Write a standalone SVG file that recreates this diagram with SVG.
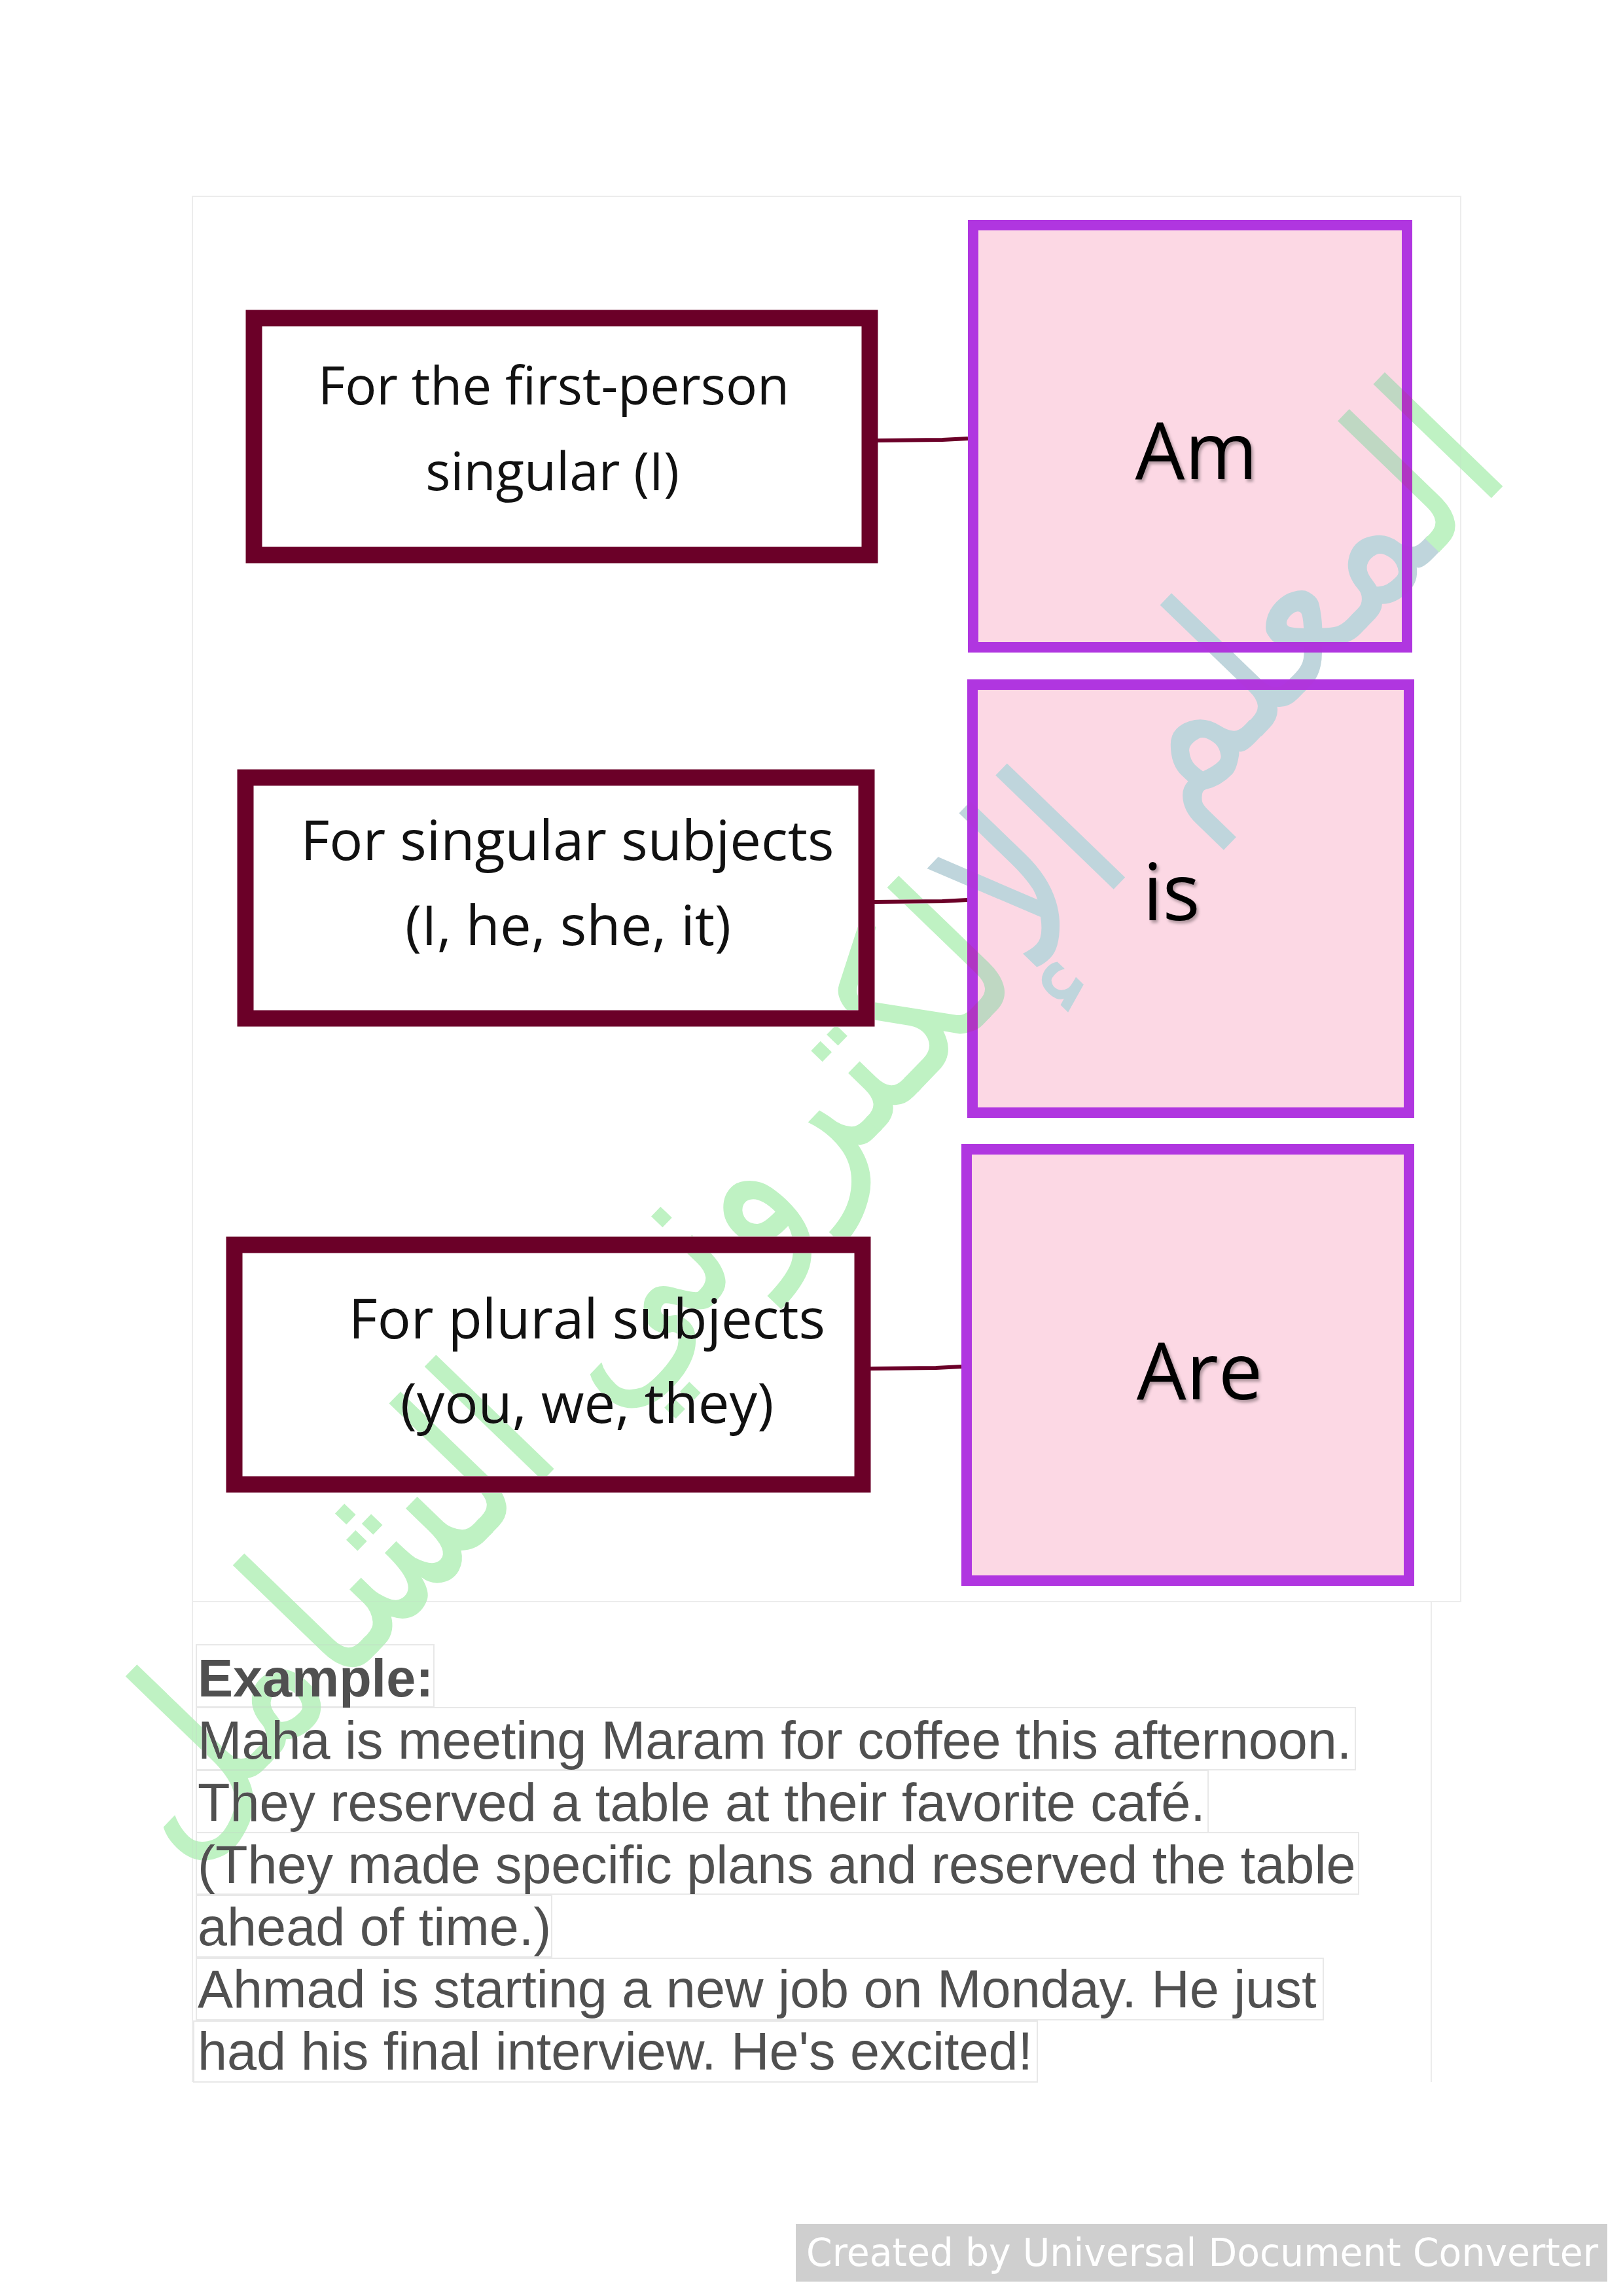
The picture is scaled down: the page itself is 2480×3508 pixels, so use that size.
<svg xmlns="http://www.w3.org/2000/svg" width="2480" height="3508" viewBox="0 0 2480 3508">
<defs>
<style>
.frame{fill:none;stroke:#ececec;stroke-width:2}
.lab{fill:none;stroke:#6b0028;stroke-width:25}
.verb{fill:#fcd8e4;stroke:#b036e0;stroke-width:16}
.conn{stroke:#6b0028;stroke-width:6;fill:none}
.lt{font-family:"Open Sans","Noto Sans","DejaVu Sans",sans-serif;font-size:80px;fill:#111;text-anchor:middle}
.lt2{font-size:85px}
.vt{font-family:"Open Sans","Noto Sans","DejaVu Sans",sans-serif;font-size:120px;fill:#000;text-anchor:middle;filter:url(#sh)}
.ex{font-family:"Liberation Sans",Arial,sans-serif;font-size:81px;fill:#505050}
.lb{fill:none;stroke:#e8e8e8;stroke-width:2}
</style>
<filter id="sh" x="-20%" y="-20%" width="140%" height="140%">
<feDropShadow dx="3" dy="4" stdDeviation="2" flood-color="#000" flood-opacity="0.3"/>
</filter>
</defs>
<rect width="2480" height="3508" fill="#fff"/>
<g id="frames">
<rect class="frame" x="294" y="300" width="1938" height="2147"/>
<path class="frame" d="M294 2447 V3181 M2187 2447 V3181"/>
</g>
<g id="connectors">
<path class="conn" d="M1341 673 L1440 672 L1479 670"/>
<path class="conn" d="M1336 1378 L1440 1377 L1478 1375"/>
<path class="conn" d="M1330 2091 L1430 2090 L1469 2088"/>
</g>
<g id="node-first-person">
<rect class="lab" x="388" y="486" width="941" height="362"/>
<text class="lt" x="846" y="618">For the first-person</text>
<text class="lt" x="844" y="749">singular (I)</text>
</g>
<g id="node-singular">
<rect class="lab" x="375" y="1188" width="949" height="368"/>
<text class="lt lt2" x="867" y="1314">For singular subjects</text>
<text class="lt lt2" x="868" y="1444">(I, he, she, it)</text>
</g>
<g id="node-plural">
<rect class="lab" x="358" y="1902" width="960" height="366"/>
<text class="lt lt2" x="897" y="2045">For plural subjects</text>
<text class="lt lt2" x="897" y="2174">(you, we, they)</text>
</g>
<g id="node-am">
<rect class="verb" x="1487" y="344" width="663" height="645"/>
<text class="vt" x="1828" y="732">Am</text>
</g>
<g id="node-is">
<rect class="verb" x="1486" y="1046" width="667" height="654"/>
<text class="vt" x="1790" y="1406">is</text>
</g>
<g id="node-are">
<rect class="verb" x="1477" y="1756" width="676" height="659"/>
<text class="vt" x="1833" y="2138">Are</text>
</g>
<g id="example">
<rect class="lb" x="300" y="2513" width="363" height="95"/>
<rect class="lb" x="300" y="2609" width="1771" height="95"/>
<rect class="lb" x="300" y="2705" width="1546" height="95"/>
<rect class="lb" x="300" y="2800" width="1776" height="94"/>
<rect class="lb" x="300" y="2896" width="543" height="94"/>
<rect class="lb" x="300" y="2992" width="1722" height="94"/>
<rect class="lb" x="296" y="3088" width="1289" height="93"/>
<text class="ex" x="302" y="2592" font-weight="bold">Example:</text>
<text class="ex" x="302" y="2687">Maha is meeting Maram for coffee this afternoon.</text>
<text class="ex" x="302" y="2782">They reserved a table at their favorite café.</text>
<text class="ex" x="302" y="2877">(They made specific plans and reserved the table</text>
<text class="ex" x="302" y="2972">ahead of time.)</text>
<text class="ex" x="302" y="3067">Ahmad is starting a new job on Monday. He just</text>
<text class="ex" x="302" y="3162">had his final interview. He's excited!</text>
</g>
<g id="watermark" style="mix-blend-mode:darken">
<text transform="translate(1290,1785) rotate(-46)" x="0" y="0" text-anchor="middle" direction="rtl" font-family="'DejaVu Sans',sans-serif" font-size="330" textLength="2950" lengthAdjust="spacingAndGlyphs" fill="#bff2c3"><tspan fill="#bff2c3">ال</tspan><tspan fill="#bfd5dc">معلم</tspan> <tspan fill="#bfd5dc">الإ</tspan>لكتروني الشامل</text>
</g>
<g id="footer">
<rect x="1216" y="3398" width="1240" height="88" fill="#cfcfcf"/>
<text x="1232" y="3462" font-family="'DejaVu Sans',sans-serif" font-size="58" fill="#fff" textLength="1210" lengthAdjust="spacingAndGlyphs">Created by Universal Document Converter</text>
</g>
</svg>
